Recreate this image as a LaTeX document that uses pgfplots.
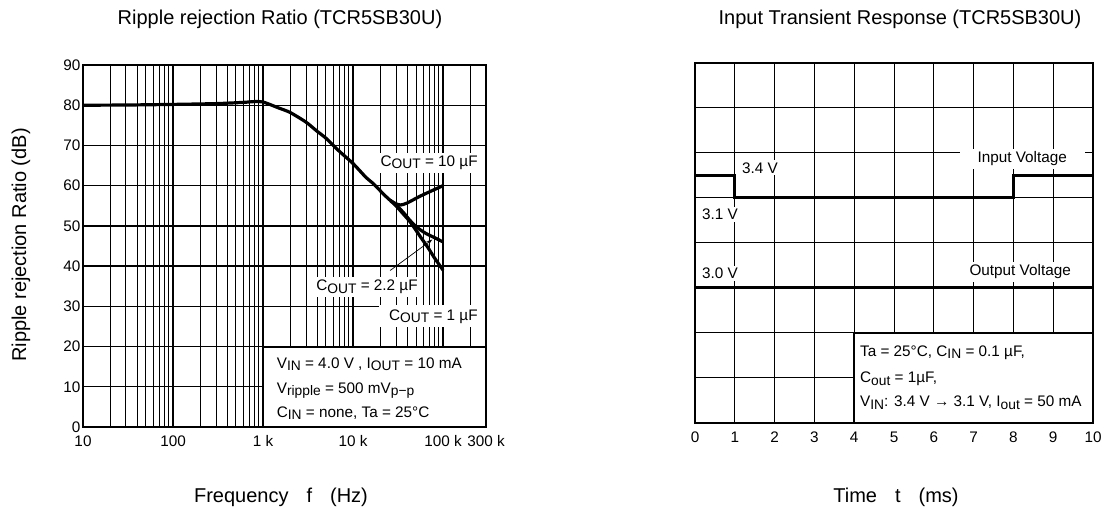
\documentclass[border=0pt]{standalone}
\usepackage{pgfplots}
\pgfplotsset{compat=1.18}
\usepackage{fontspec}
\setmainfont{Liberation Sans}
\usetikzlibrary{arrows.meta}
\newcommand{\sub}[1]{\raisebox{-0.3ex}{\fontsize{13.8}{14}\selectfont #1}}
\newcommand{\tfont}{\fontsize{20}{24}\selectfont}
\newcommand{\lfont}{\fontsize{15.3}{18}\selectfont}

\pgfplotstableread{
f db
10 80.0
30 80.05
100 80.2
300 80.4
600 80.7
800 80.9
1000 80.8
1500 79.3
2000 78.2
3000 75.8
4000 73.5
5000 71.8
7000 68.6
10000 65.5
14000 62.0
17000 60.4
22000 57.8
26000 56.3
}\common

\pgfplotstableread{
f db
26000 56.3
30000 55.5
34000 55.2
40000 55.7
57000 57.5
100000 60.0
}\cten

\pgfplotstableread{
f db
26000 56.3
30000 55.2
36000 53.4
42000 51.6
48000 50.2
56000 49.0
66000 48.0
80000 47.1
100000 46.0
}\ctwo

\pgfplotstableread{
f db
26000 56.3
30000 55.0
36000 53.0
42000 51.3
48000 49.5
56000 47.3
68000 44.6
80000 42.1
100000 39.0
}\cone

\pgfplotstableread{
t v
0 5.5
1 5.5
1 5.0
8 5.0
8 5.5
10 5.5
}\vin

\pgfplotstableread{
t v
0 3.0
10 3.0
}\vout

\begin{document}
\begin{tikzpicture}[x=1pt,y=1pt]
\path[use as bounding box] (0,0) rectangle (1105,511);

% ---------------- left chart ----------------
\begin{axis}[
  at={(83pt,84pt)}, anchor=south west, scale only axis,
  width=403pt, height=362pt,
  xmode=log, xmin=10, xmax=300000, ymin=0, ymax=90,
  xtick={10,100,1000,10000,100000,300000},
  xticklabels={10,100,1 k,10 k,100 k,300 k},
  minor xtick={20,30,40,50,60,70,80,90,200,300,400,500,600,700,800,900,2000,3000,4000,5000,6000,7000,8000,9000,20000,30000,40000,50000,60000,70000,80000,90000,200000},
  ytick={0,10,...,90},
  xmajorgrids, xminorgrids, ymajorgrids,
  major grid style={black, line width=1.3pt},
  minor grid style={black, line width=0.9pt},
  tick style={draw=none},
  axis line style={line width=2.5pt},
  tick label style={font=\lfont},
  xticklabel style={yshift=-5pt},
  yticklabel style={xshift=1pt},
  /pgf/number format/assume math mode=true,
  clip=false,
]
% boxes
\fill[white] (axis cs:1000,0) rectangle (axis cs:300000,20);
\draw[line width=2pt] (axis cs:1000,0) |- (axis cs:300000,20);
\node[anchor=west, font=\lfont] at (axis cs:1300,15.6) {V\sub{IN} = 4.0 V , I\sub{OUT} = 10 mA};
\node[anchor=west, font=\lfont] at (axis cs:1300,9.0) {V\sub{ripple} = 500 mV\sub{p−p}};
\node[anchor=west, font=\lfont] at (axis cs:1300,3.4) {C\sub{IN} = none, Ta = 25°C};
\node[fill=white, inner xsep=3pt, inner ysep=3pt, font=\lfont] at (axis cs:70000,65.7) {C\sub{OUT} = 10 µF};
\node[fill=white, inner xsep=2pt, inner ysep=3pt, font=\lfont] at (axis cs:14300,34.8) {C\sub{OUT} = 2.2 µF};
\node[fill=white, inner xsep=10pt, inner ysep=4pt, font=\lfont] at (axis cs:78000,27.5) {C\sub{OUT} = 1 µF};
% curves
\addplot[black, line width=3.2pt, line join=round, smooth, tension=0.4] table[x=f,y=db] {\common};
\addplot[black, line width=3.2pt, line join=round, smooth, tension=0.4] table[x=f,y=db] {\cten};
\addplot[black, line width=3.2pt, line join=round, smooth, tension=0.4] table[x=f,y=db] {\ctwo};
\addplot[black, line width=3.2pt, line join=round, smooth, tension=0.4] table[x=f,y=db] {\cone};
\draw[-{Stealth[length=6pt,width=4pt]}, line width=0.7pt] (axis cs:25800,38.9) -- (axis cs:76000,46.6);
\draw[line width=2.5pt] (rel axis cs:0,0) rectangle (rel axis cs:1,1);
\end{axis}

% ---------------- right chart ----------------
\begin{axis}[
  at={(695pt,88pt)}, anchor=south west, scale only axis,
  width=398pt, height=360pt,
  xmin=0, xmax=10, ymin=0, ymax=8,
  xtick={0,1,...,10}, ytick={0,1,...,8}, yticklabels={},
  grid=major,
  major grid style={black, line width=1pt},
  tick style={draw=none},
  axis line style={line width=2.8pt},
  tick label style={font=\lfont},
  xticklabel style={yshift=-5pt},
  /pgf/number format/assume math mode=true,
  clip=false,
]
\fill[white] (axis cs:4,0) rectangle (axis cs:10,2);
\draw[line width=1.8pt] (axis cs:4,0) |- (axis cs:10,2);
\node[anchor=west, font=\lfont] at (axis cs:4.06,1.56) {Ta = 25°C, C\sub{IN} = 0.1 µF,};
\node[anchor=west, font=\lfont] at (axis cs:4.06,0.98) {C\sub{out} = 1µF,};
\node[anchor=west, font=\lfont] at (axis cs:4.06,0.45) {V\sub{IN}: 3.4 V → 3.1 V, I\sub{out} = 50 mA};
\node[fill=white, inner sep=2pt, font=\lfont] at (axis cs:1.63,5.67) {3.4 V};
\node[fill=white, inner sep=2pt, font=\lfont] at (axis cs:0.63,4.64) {3.1 V};
\node[fill=white, inner sep=2pt, font=\lfont] at (axis cs:0.63,3.33) {3.0 V};
\node[fill=white, inner xsep=18pt, inner ysep=3pt, font=\lfont] at (axis cs:8.22,5.87) {Input Voltage};
\node[fill=white, inner xsep=8pt, inner ysep=3pt, font=\lfont] at (axis cs:8.17,3.36) {Output Voltage};
\addplot[black, line width=3pt] table[x=t,y=v] {\vin};
\addplot[black, line width=3pt] table[x=t,y=v] {\vout};
\draw[line width=2.8pt] (rel axis cs:0,0) rectangle (rel axis cs:1,1);
\end{axis}

% ---------------- titles & labels ----------------
\node[anchor=base, font=\tfont] at (280,486) {Ripple rejection Ratio (TCR5SB30U)};
\node[anchor=base, font=\tfont] at (900,486) {Input Transient Response (TCR5SB30U)};
\node[anchor=base, font=\tfont] at (281,9) {Frequency\hspace{0.9em}f\hspace{0.9em}(Hz)};
\node[anchor=base, font=\tfont] at (896,9) {Time\hspace{0.9em}t\hspace{0.9em}(ms)};
\node[rotate=90, font=\tfont] at (21,266) {Ripple rejection Ratio (dB)};
\end{tikzpicture}
\end{document}
